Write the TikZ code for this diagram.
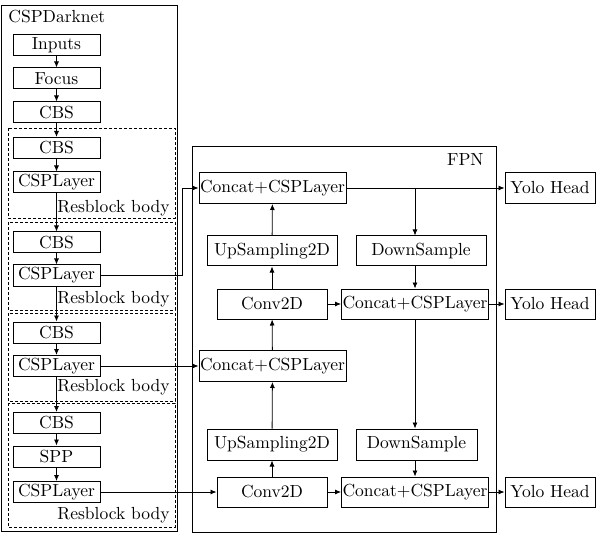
\documentclass[tikz,border=0pt]{standalone}
\usepackage{fontspec}
\setmainfont{lmroman10-regular.otf}
\usetikzlibrary{arrows.meta}
\begin{document}
\begin{tikzpicture}[x=1pt, y=-1pt, line width=0.8pt,
    box/.style={draw, line width=1pt, inner sep=1pt, minimum height=21pt, font=\fontsize{17.5}{20}\selectfont},
    fbox/.style={box, minimum height=31pt},
    lbl/.style={inner sep=2pt, font=\fontsize{17.5}{20}\selectfont},
    arr/.style={-{Latex[length=6pt,width=5pt]}},
    blk/.style={dash pattern=on 3pt off 2pt, line width=0.6pt}]
              \useasboundingbox (0,0) rectangle (596,534);

              % CSPDarknet
              \draw (1,5) rectangle (177,531);
              \node[lbl, anchor=west] (dark) at (6,17) {CSPDarknet};
              \draw[blk] (8,128) rectangle (175,218);
              \draw[blk] (8,222) rectangle (175,310);
              \draw[blk] (8,313) rectangle (175,401);
              \draw[blk] (8,403) rectangle (175,527);

              \node[box, minimum width=87pt] (inp) at (56.5,45) {Inputs};
              \node[box, minimum width=87pt] (foc) at (56.5,78.5) {Focus};
              \node[box, minimum width=87pt] (cbs) at (56.5,112.5) {CBS};
              \node[box, minimum width=87pt] (cbsa) at (56.5,148) {CBS};
              \node[box, minimum width=87pt] (cspa) at (56.5,182.5) {CSPLayer};
              \node[box, minimum width=87pt] (cbsb) at (56.5,242.5) {CBS};
              \node[box, minimum width=87pt] (cspb) at (56.5,275.5) {CSPLayer};
              \node[box, minimum width=87pt] (cbsc) at (56.5,332.5) {CBS};
              \node[box, minimum width=87pt] (cspc) at (56.5,366) {CSPLayer};
              \node[box, minimum width=87pt] (cbsd) at (56.5,423) {CBS};
              \node[box, minimum width=87pt] (spp) at (56.5,456.5) {SPP};
              \node[box, minimum width=87pt] (cspd) at (56.5,492) {CSPLayer};

              \node[lbl, anchor=east] (resa) at (172,208) {Resblock body};
              \node[lbl, anchor=east] (resb) at (172,299) {Resblock body};
              \node[lbl, anchor=east] (resc) at (172,387) {Resblock body};
              \node[lbl, anchor=east] (resd) at (172,515) {Resblock body};

              \draw[arr] (inp) -- (foc);
              \draw[arr] (foc) -- (cbs);
              \draw[arr] (cbs) -- (cbsa);
              \draw[arr] (cbsa) -- (cspa);
              \draw[arr] (cspa) -- (cbsb);
              \draw[arr] (cbsb) -- (cspb);
              \draw[arr] (cspb) -- (cbsc);
              \draw[arr] (cbsc) -- (cspc);
              \draw[arr] (cspc) -- (cbsd);
              \draw[arr] (cbsd) -- (spp);
              \draw[arr] (spp) -- (cspd);

              % FPN
              \draw (192,146) rectangle (496,532);
              \node[lbl, anchor=east] (fpn) at (486,160) {FPN};

              \node[fbox, minimum width=147pt] (cata) at (272.5,188) {Concat+CSPLayer};
              \node[fbox, minimum width=130pt, minimum height=30pt] (upa) at (272,251) {UpSampling2D};
              \node[fbox, minimum width=130pt, minimum height=30pt] (downa) at (421,251) {DownSample};
              \node[fbox, minimum width=110pt, minimum height=30pt] (conva) at (272,304) {Conv2D};
              \node[fbox, minimum width=146pt, minimum height=30pt] (catb) at (415,304) {Concat+CSPLayer};
              \node[fbox, minimum width=147pt] (catc) at (272.5,366) {Concat+CSPLayer};
              \node[fbox, minimum width=130pt] (upb) at (272,444.5) {UpSampling2D};
              \node[fbox, minimum width=121pt] (downb) at (416.5,444.5) {DownSample};
              \node[fbox, minimum width=110pt, minimum height=30pt] (convb) at (272,492) {Conv2D};
              \node[fbox, minimum width=146pt, minimum height=30pt] (catd) at (415,492) {Concat+CSPLayer};

              \node[fbox, minimum width=90pt] (yoloa) at (550,188) {Yolo Head};
              \node[fbox, minimum width=90pt, minimum height=30pt] (yolob) at (550,304) {Yolo Head};
              \node[fbox, minimum width=90pt, minimum height=30pt] (yoloc) at (550,492) {Yolo Head};

              \draw[arr] (cspb.east) -- ++(82,0) |- (cata.west);
              \draw[arr] (cspc.east) -- (catc.west);
              \draw[arr] (cspd.east) -- (convb.west);

              \draw[arr] (convb) -- (upb);
              \draw[arr] (upb) -- (catc);
              \draw[arr] (catc) -- (conva);
              \draw[arr] (conva) -- (upa);
              \draw[arr] (upa) -- (cata);
              \draw[arr] (cata) -- (yoloa);
              \draw[arr] (cata.east -| catb) -- (downa.north -| catb);
              \draw[arr] (downa.south -| catb) -- (catb);
              \draw[arr] (conva) -- (catb);
              \draw[arr] (catb) -- (yolob);
              \draw[arr] (catb) -- (downb.north -| catb);
              \draw[arr] (downb.south -| catd) -- (catd);
              \draw[arr] (convb) -- (catd);
              \draw[arr] (catd) -- (yoloc);

          \end{tikzpicture}
\end{document}
